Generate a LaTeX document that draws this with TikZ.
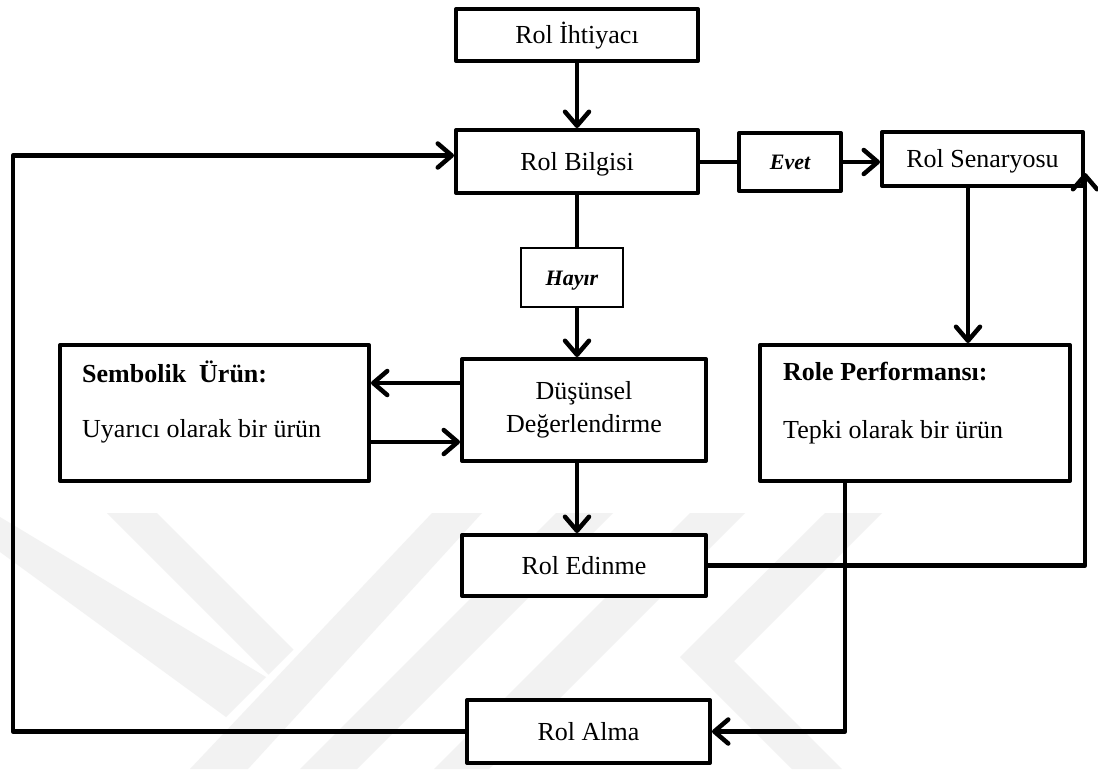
\documentclass[tikz,border=0pt]{standalone}
\usepackage{fontspec}
\setmainfont{Liberation Serif}
\usetikzlibrary{arrows.meta,calc}
\begin{document}
\begin{tikzpicture}[x=1pt,y=-1pt,
  frame/.style={draw=black,line width=4pt,fill=white,line join=round,inner sep=0pt},
  box/.style={frame,font=\fontsize{26}{33}\selectfont,text height=17pt,text depth=0pt},
  tagbox/.style={draw=black,line width=1.6pt,fill=white,inner sep=0pt,
    font=\fontsize{22}{26}\selectfont\bfseries\itshape,text height=15pt,text depth=0pt},
  link/.style={line width=4.5pt,line join=round},
  arr/.style={link,-{Straight Barb[length=14pt,width=24pt,round]}},
  txt/.style={anchor=base west,inner sep=0pt,font=\fontsize{26}{33}\selectfont},
  wm/.style={fill=black!5,draw=none}
]
\useasboundingbox (0,0) rectangle (1098,769);
\fill[white] (0,0) rectangle (1098,769);

% faint background emblem
\fill[wm] (0,517) -- (266,677) -- (226,717) -- (0,552) -- cycle;
\fill[wm] (107,513) -- (157,513) -- (293.5,649.5) -- (268.5,674.5) -- cycle;
\fill[wm] (432,513) -- (482,513) -- (248,769) -- (190,769) -- cycle;
\fill[wm] (556,513) -- (613,513) -- (357,769) -- (300,769) -- cycle;
\fill[wm] (690,513) -- (745,513) -- (489,769) -- (434,769) -- cycle;
\fill[wm] (825,513) -- (882,513) -- (734,661) -- (842,769) -- (792,769) -- (680,657) -- cycle;

% boxes
\node[box,minimum width=242pt,minimum height=52pt] (ihtiyac) at (577,35) {Rol İhtiyacı};
\node[box,minimum width=242pt,minimum height=63pt] (bilgi) at (577,161.5) {Rol Bilgisi};
\node[box,font=\fontsize{22}{26}\selectfont\bfseries\itshape,text height=15pt,
      minimum width=102pt,minimum height=58pt] (evet) at (790,162) {Evet};
\node[box,minimum width=201pt,minimum height=54pt] (senaryo) at (982.5,159) {Rol Senaryosu};
\node[tagbox,minimum width=102pt,minimum height=59pt] (hayir) at (572,277.5) {Hayır};
\node[frame,font=\fontsize{26}{33}\selectfont,align=center,
      minimum width=244pt,minimum height=102pt] (dusunsel) at (584,410) {Düşünsel\\Değerlendirme};
\node[box,minimum width=244pt,minimum height=61pt] (edinme) at (584,565.5) {Rol Edinme};
\node[box,minimum width=243pt,minimum height=63pt] (alma) at (588.5,731.5) {Rol Alma};

\node[frame,minimum width=309pt,minimum height=136pt] (sembolik) at (214.5,413) {};
\node[txt,font=\fontsize{26}{33}\selectfont\bfseries] (sembolikBaslik) at (82,382) {Sembolik\ \ Ürün:};
\node[txt] (sembolikAciklama) at (82,437) {Uyarıcı olarak bir ürün};

\node[frame,minimum width=310pt,minimum height=136pt] (perf) at (915,413) {};
\node[txt,font=\fontsize{26}{33}\selectfont\bfseries] (perfBaslik) at (783,380) {Role Performansı:};
\node[txt] (perfAciklama) at (783,438) {Tepki olarak bir ürün};

% helper coordinates for connector routes
\coordinate (d1) at ($(dusunsel.west)+(0,-27)$);
\coordinate (d2) at ($(dusunsel.west)+(0,32)$);
\coordinate (sx) at (968,0);
\coordinate (rx) at (1085,0);
\coordinate (stip) at ($(senaryo.south east)+(0,-15)$);
\coordinate (px) at (845,0);
\coordinate (lx) at (13,0);
\coordinate (by) at ($(bilgi.west)+(0,-6)$);

% connectors
\draw[arr] (ihtiyac) -- (bilgi);
\draw[link] (bilgi.east |- evet) -- (evet.west);
\draw[arr] (evet.east) -- (senaryo.west |- evet.east);
\draw[link] (bilgi.south) -- (bilgi.south |- hayir.north);
\draw[arr] (bilgi.south |- hayir.south) -- (bilgi.south |- dusunsel.north);
\draw[arr] (d1) -- (d1 -| sembolik.east);
\draw[arr] (d2 -| sembolik.east) -- (d2);
\draw[arr] (bilgi.south |- dusunsel.south) -- (bilgi.south |- edinme.north);
\draw[arr] (senaryo.south -| sx) -- (perf.north -| sx);
\draw[arr] (edinme.east) -- (edinme.east -| rx) -- (stip -| rx);
\draw[arr] (perf.south -| px) -- (px |- alma.east) -- (alma.east);
\draw[arr] (alma.west) -- (alma.west -| lx) -- (lx |- by) -- (by);
\end{tikzpicture}
\end{document}
